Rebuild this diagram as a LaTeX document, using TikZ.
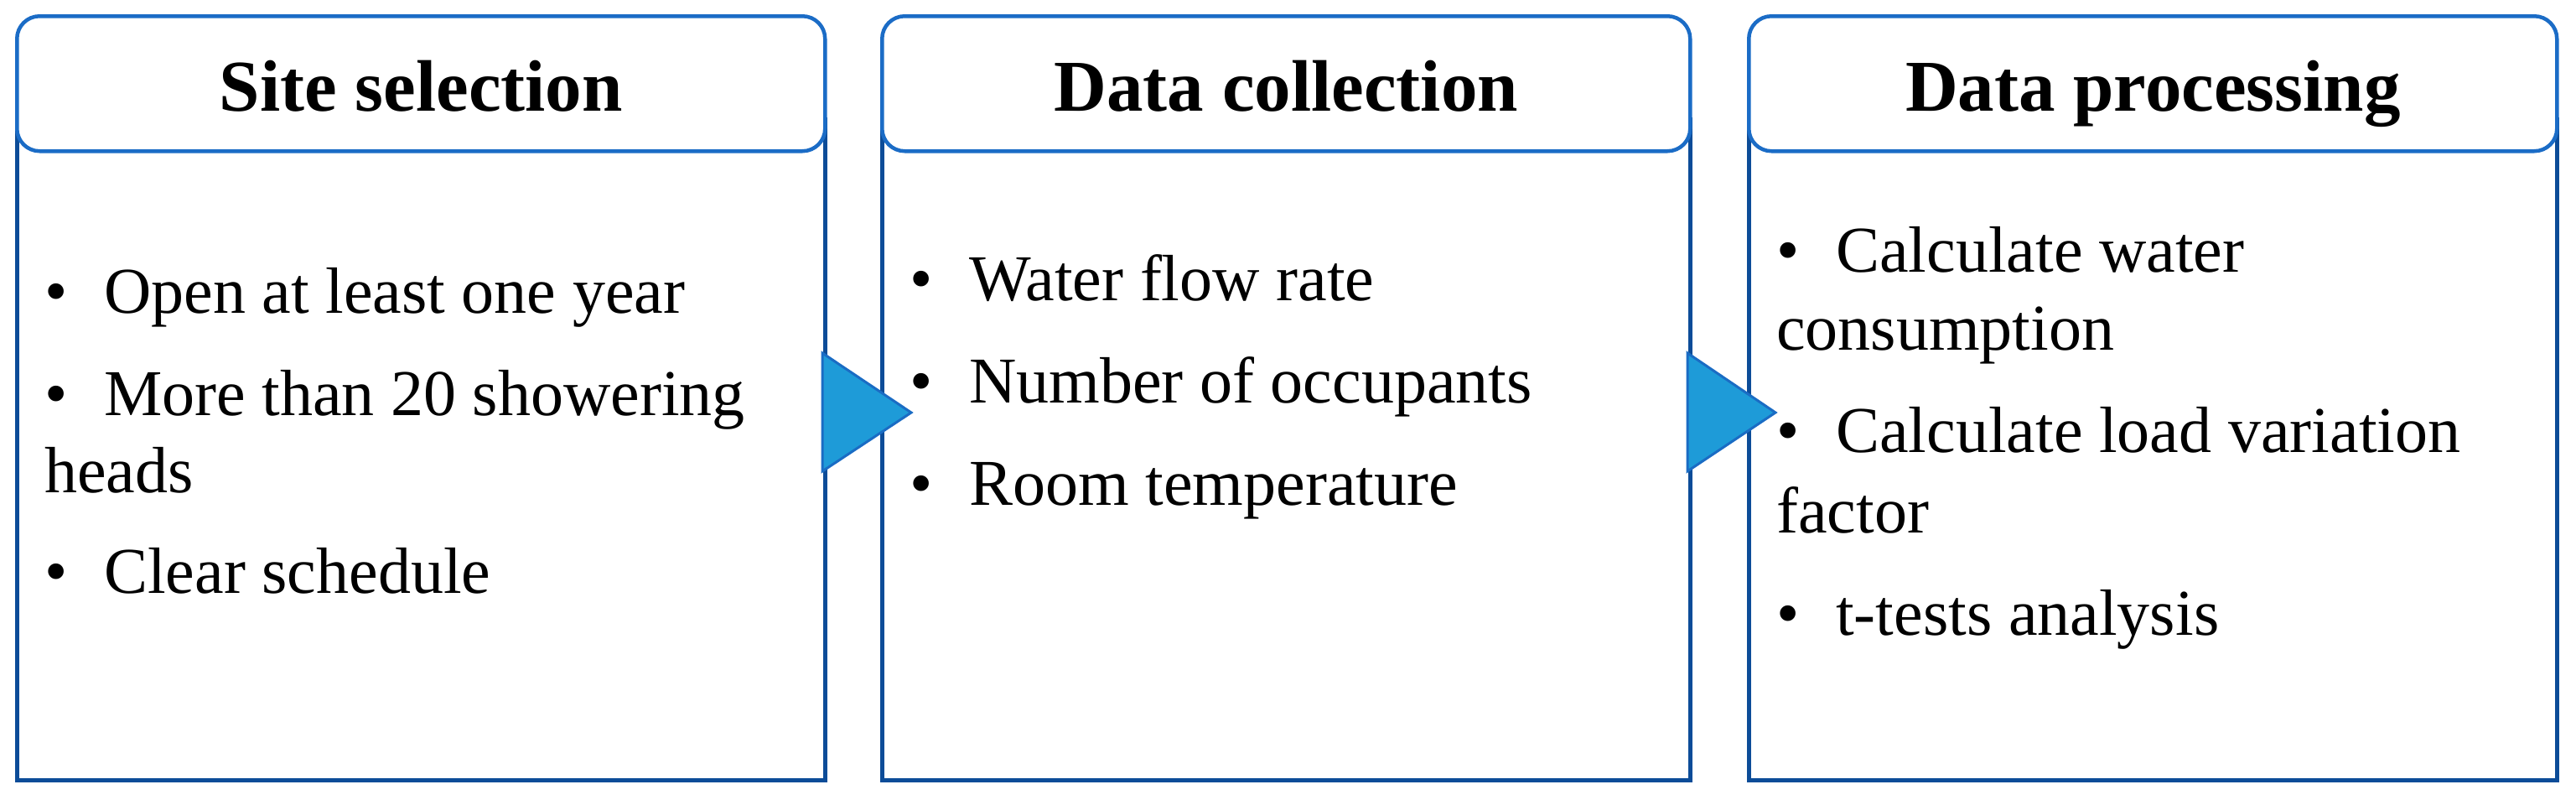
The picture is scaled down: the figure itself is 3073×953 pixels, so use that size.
\documentclass[tikz,border=0pt]{standalone}
\usepackage{fontspec}
\setmainfont{Liberation Serif}
\definecolor{headblue}{HTML}{1B6CC6}
\definecolor{bodyblue}{HTML}{0C4C98}
\definecolor{trifill}{HTML}{1E9BD8}
\definecolor{triline}{HTML}{1A6CC4}
\begin{document}
\begin{tikzpicture}[x=1pt,y=-1pt,
  bodybox/.style={draw=bodyblue, line width=4.5pt, fill=white, rectangle, inner sep=0pt,
    minimum width=964pt, minimum height=788pt, anchor=north west},
  headbox/.style={draw=headblue, line width=4.5pt, fill=white, rectangle, rounded corners=27pt,
    inner sep=0pt, minimum width=964pt, minimum height=161pt, anchor=north west,
    text height=65pt, text depth=0pt, font=\bfseries\fontsize{87}{100}\selectfont},
  itemtext/.style={anchor=base west, inner sep=0pt, font=\fontsize{78}{93}\selectfont},
  chevron/.style={fill=trifill, draw=triline, line width=3pt, line join=miter}
]
\useasboundingbox (0,0) rectangle (3073,953);
\newcommand{\bul}{\makebox[71pt][l]{\textbullet}}

% boxes
\node[bodybox] (b1) at (18,140) {};
\node[bodybox] (b2) at (1050,140) {};
\node[bodybox] (b3) at (2084,140) {};
\node[headbox] (h1) at (18,17) {Site selection};
\node[headbox] (h2) at (1050,17) {Data collection};
\node[headbox] (h3) at (2084,17) {Data processing};

% box 1 text
\node[itemtext] (s1) at (53,373) {\bul Open at least one year};
\node[itemtext] (s2) at (53,495) {\bul More than 20 showering};
\node[itemtext] (s3) at (53,587) {heads};
\node[itemtext] (s4) at (53,707) {\bul Clear schedule};

% box 2 text
\node[itemtext] (c1) at (1085,358) {\bul Water flow rate};
\node[itemtext] (c2) at (1085,480) {\bul Number of occupants};
\node[itemtext] (c3) at (1085,602) {\bul Room temperature};

% box 3 text
\node[itemtext] (p1) at (2119,324) {\bul Calculate water};
\node[itemtext] (p2) at (2119,417) {consumption};
\node[itemtext] (p3) at (2119,539) {\bul Calculate load variation};
\node[itemtext] (p4) at (2119,635) {factor};
\node[itemtext] (p5) at (2119,757) {\bul t-tests analysis};

% chevrons
\coordinate (t1a) at (981,421);
\coordinate (t1b) at (981,562);
\coordinate (t1c) at (1087,492);
\coordinate (t2a) at (2013,421);
\coordinate (t2b) at (2013,562);
\coordinate (t2c) at (2118,492);
\draw[chevron] (t1a) -- (t1c) -- (t1b) -- cycle;
\draw[chevron] (t2a) -- (t2c) -- (t2b) -- cycle;
\end{tikzpicture}
\end{document}
